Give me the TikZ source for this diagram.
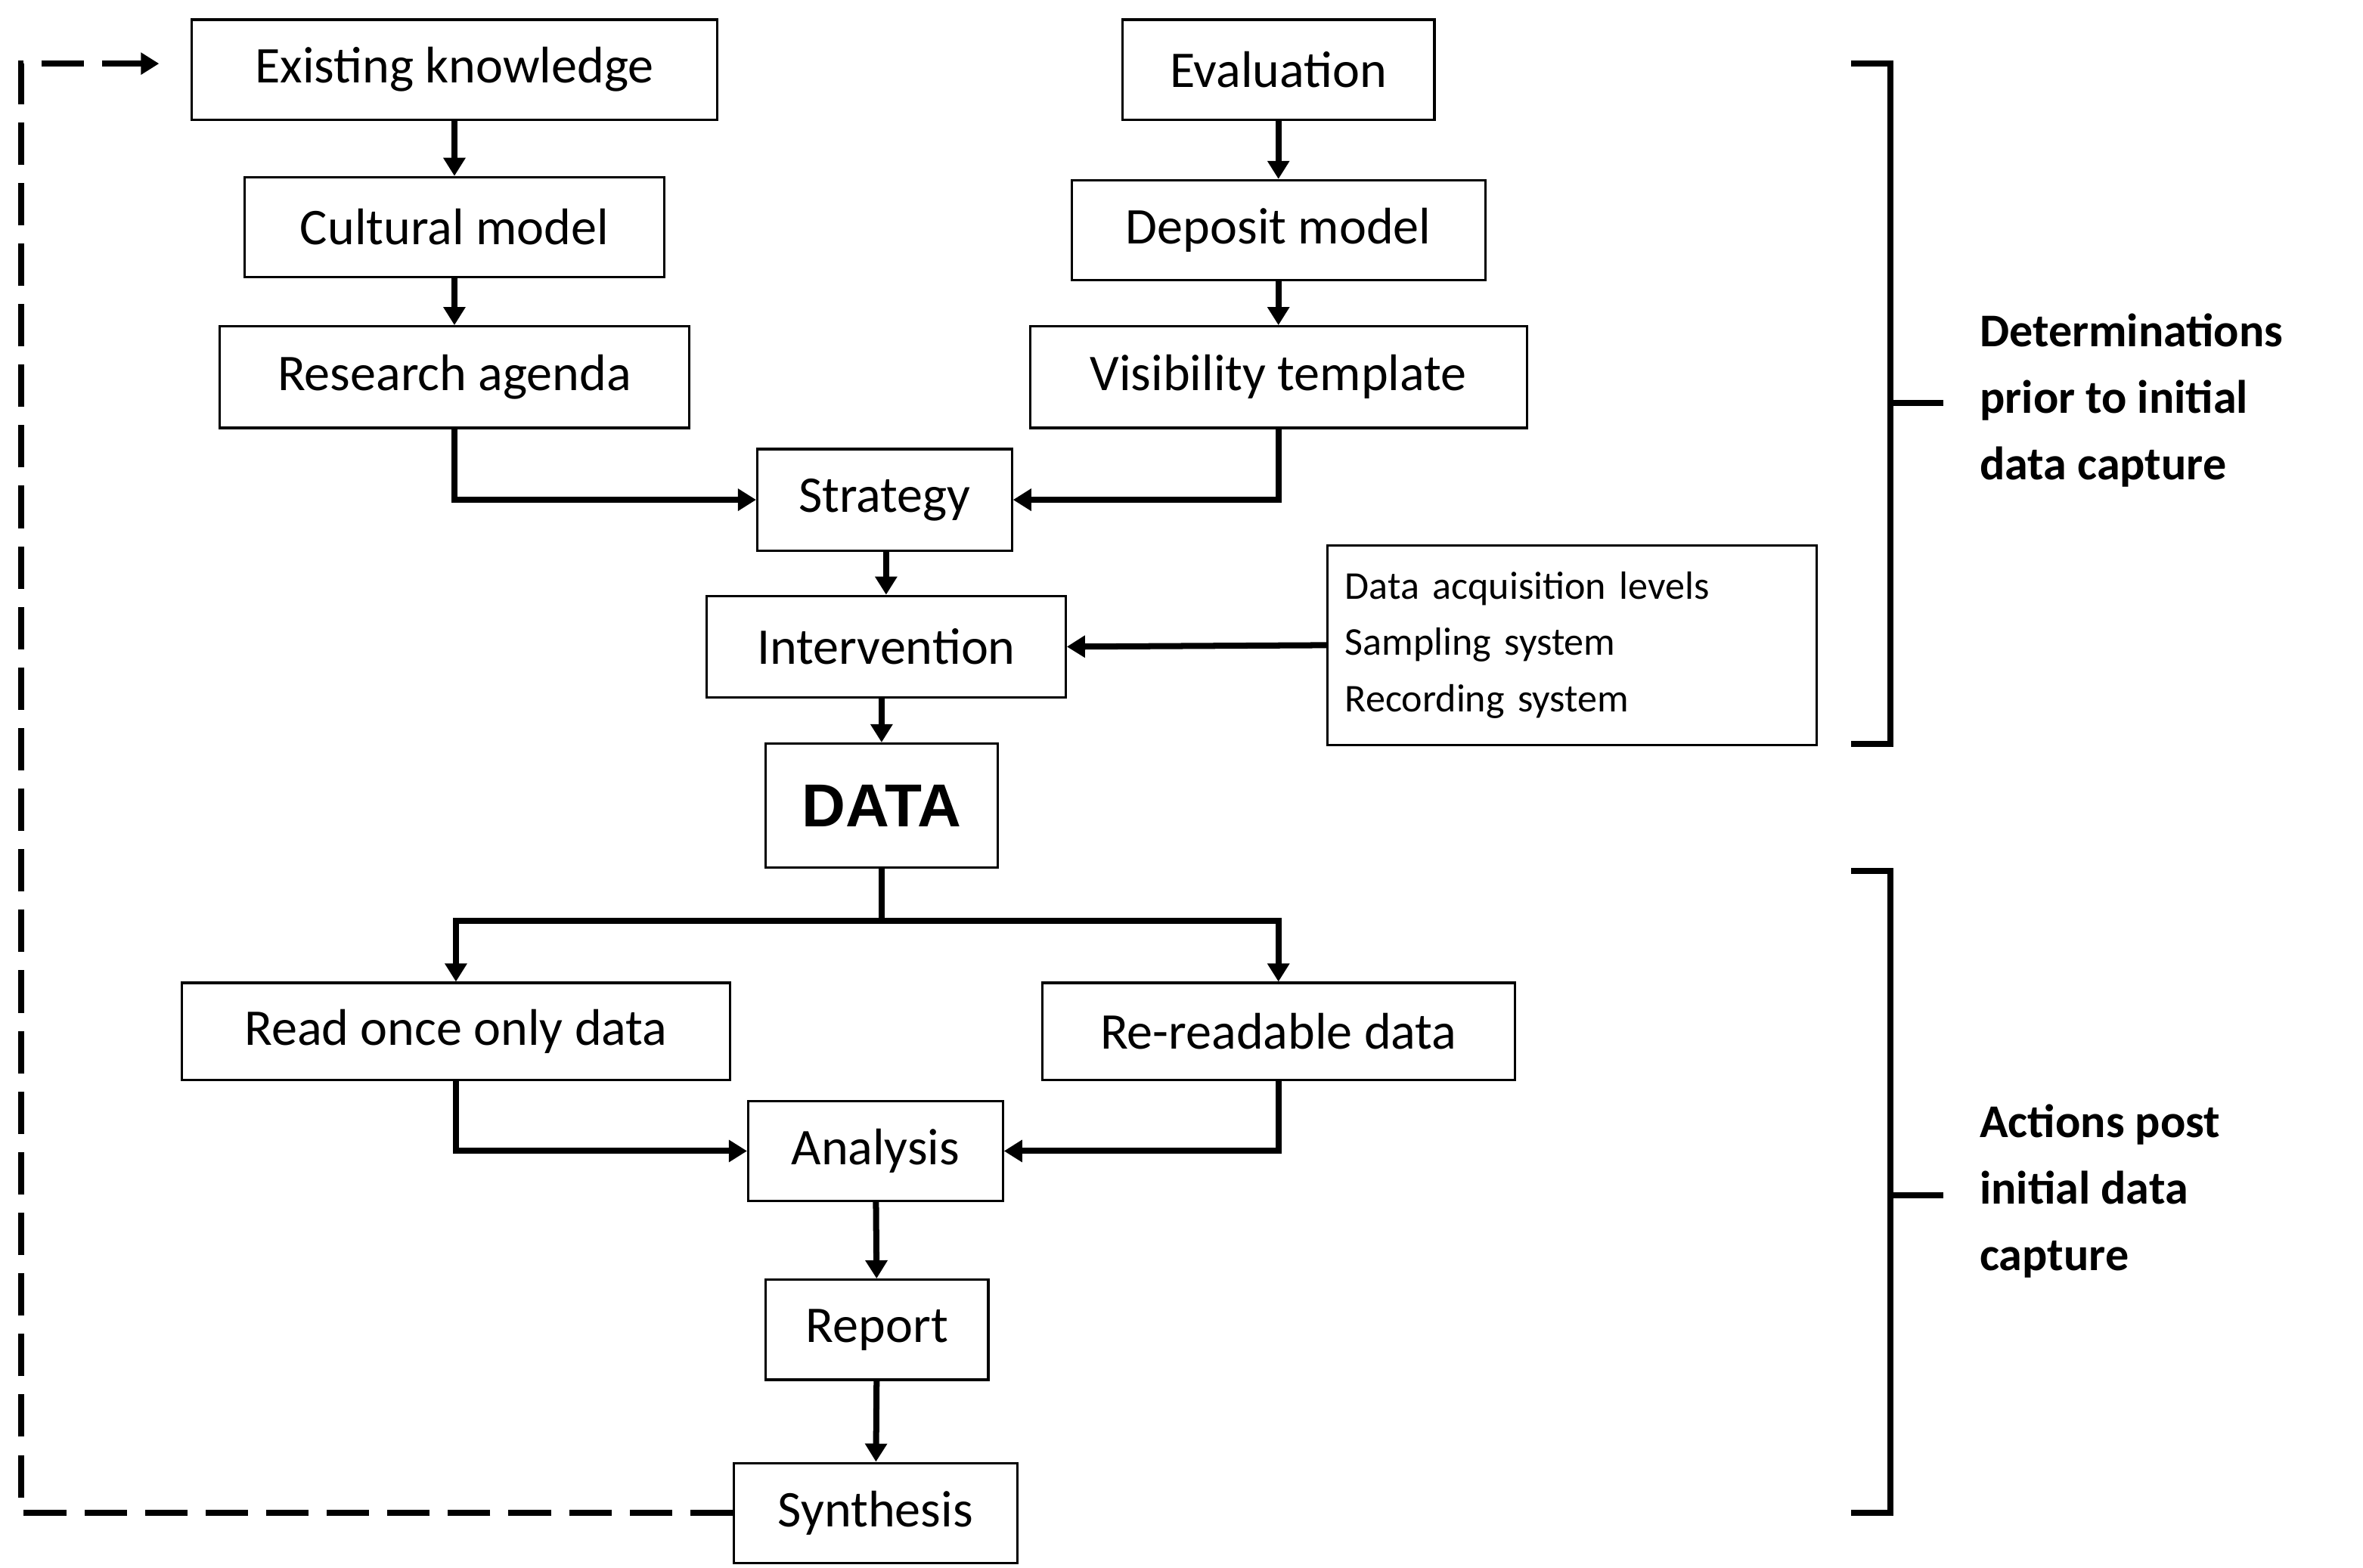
\documentclass[tikz,border=0pt]{standalone}
\usepackage{fontspec}
\setmainfont{Carlito}
\newfontfamily\arialb{Liberation Sans}
\usetikzlibrary{arrows.meta}
\begin{document}
\begin{tikzpicture}[x=0.5pt,y=-0.5pt,
 box/.style={draw,line width=0.8pt,inner sep=0pt,font=\fontsize{17}{20}\selectfont},
 arr/.style={line width=2pt,-{Triangle[length=6pt,width=7pt]}},
 lab/.style={anchor=north west,align=left,font=\bfseries\fontsize{15.5}{22}\selectfont}]
\useasboundingbox (0,0) rectangle (1560,1035);
\newcommand\bx[6]{\node[box,minimum width=#4*0.5pt,minimum height=#5*0.5pt] (#1) at (#2,#3) {#6};}
\bx{ek}{300}{46}{347}{66}{Existing knowledge}
\bx{cm}{300}{150}{277}{66}{Cultural model}
\bx{ra}{300}{249}{310}{67}{Research agenda}
\bx{ev}{844}{46}{206}{66}{Evaluation}
\bx{dm}{844}{152}{273}{66}{Deposit model}
\bx{vt}{844}{249}{328}{67}{Visibility template}
\bx{st}{584}{330}{168}{67}{Strategy}
\bx{in}{585}{427}{237}{67}{Intervention}
\node[box,minimum width=161.5pt,minimum height=66pt,align=left,font=\fontsize{13}{18.5}\selectfont,text width=150pt] (da) at (1038,426) {Data acquisition levels\\Sampling system\\Recording system};
\node[box,minimum width=76.5pt,minimum height=41pt,font=\arialb\bfseries\fontsize{20}{24}\selectfont] (data) at (582,532) {DATA};
\bx{ro}{301}{681}{362}{64}{Read once only data}
\bx{rr}{844}{681}{312}{64}{Re-readable data}
\bx{an}{578}{760}{168}{66}{Analysis}
\bx{rp}{579}{878}{147}{66}{Report}
\bx{sy}{578}{999}{187}{66}{Synthesis}
\draw[arr] (ek) -- (cm);
\draw[arr] (cm) -- (ra);
\draw[arr] (ev) -- (dm);
\draw[arr] (dm) -- (vt);
\draw[arr] (ra.south) |- (st.west);
\draw[arr] (vt.south) |- (st.east);
\draw[arr] (st.south -| in.north) -- (in);
\draw[arr] (da.west) -- (in.east);
\draw[arr] (in.south -| data.north) -- (data);
\coordinate (j) at (582,608);
\draw[line width=2pt] (data.south) -- (j);
\draw[arr] (j) -| (ro.north);
\draw[arr] (j) -| (rr.north);
\draw[arr] (ro.south) |- (an.west);
\draw[arr] (rr.south) |- (an.east);
\draw[arr] (an) -- (rp);
\draw[arr] (rp) -- (sy);
\coordinate (d1) at (14,999); \coordinate (d2) at (14,42); \coordinate (d3) at (105,42);
\draw[line width=2pt,dash pattern=on 14pt off 6pt,-{Triangle[length=6pt,width=7pt]}] (sy.west) -- (d1) -- (d2) -- (d3);
\draw[line width=2pt] (1222,42) -- (1248,42) -- (1248,491) -- (1222,491) (1248,266) -- (1283,266);
\draw[line width=2pt] (1222,575) -- (1248,575) -- (1248,999) -- (1222,999) (1248,789) -- (1283,789);
\node[lab] (l1) at (1300,200) {Determinations\\prior to initial\\data capture};
\node[lab] (l2) at (1300,722) {Actions post\\initial data\\capture};
\end{tikzpicture}
\end{document}
